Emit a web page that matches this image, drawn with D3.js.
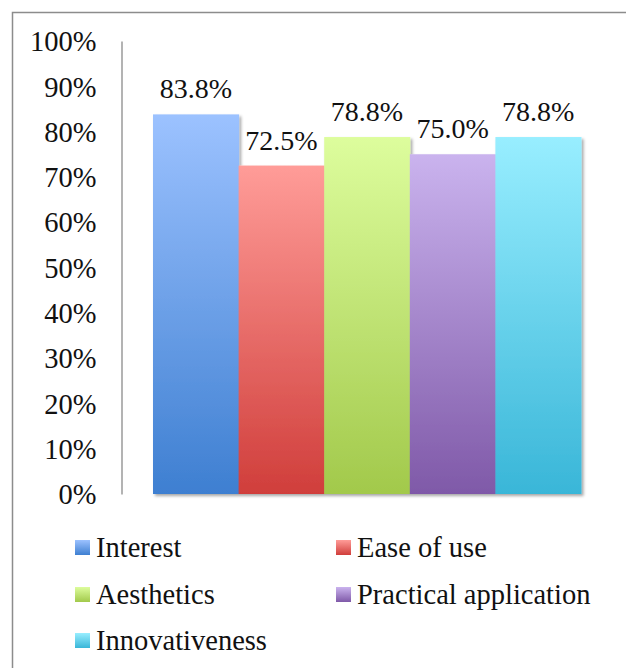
<!DOCTYPE html>
<html>
<head>
<meta charset="utf-8">
<script src="https://cdn.jsdelivr.net/npm/d3@7"></script>
<style>
  html, body { margin: 0; padding: 0; background: #fff; }
  svg { display: block; }
  svg text { font-family: "Liberation Serif", "Times New Roman", serif; fill: #111; }
</style>
</head>
<body>
<svg id="chart" width="626" height="668"></svg>
<script>
// Survey results: share of positive ratings per criterion
const categories = ["Interest", "Ease of use", "Aesthetics", "Practical application", "Innovativeness"];
const values = [83.8, 72.5, 78.8, 75.0, 78.8];
const tickValues = [0, 10, 20, 30, 40, 50, 60, 70, 80, 90, 100];
// light (top) and dark (bottom) gradient stops for each series
const topColors = ["#9cc2ff", "#ff9c98", "#ddfd9d", "#cab3ee", "#98eeff"];
const bottomColors = ["#3e7fd1", "#d03e3b", "#a2c94b", "#7f59a8", "#39b6d8"];

const svg = d3.select("#chart");
const W = 626, H = 668;
const FONT = "'Liberation Serif', 'Times New Roman', serif";

// outer frame (continues past the right and bottom edges)
svg.append("rect")
  .attr("x", 12.5).attr("y", 12.5)
  .attr("width", W).attr("height", H)
  .attr("fill", "none").attr("stroke", "#8c8c8c").attr("stroke-width", 1.5);

const defs = svg.append("defs");
categories.forEach((c, i) => {
  const g = defs.append("linearGradient")
    .attr("id", "grad" + i).attr("x1", 0).attr("y1", 0).attr("x2", 0).attr("y2", 1);
  g.append("stop").attr("offset", "0%").attr("stop-color", topColors[i]);
  g.append("stop").attr("offset", "100%").attr("stop-color", bottomColors[i]);
});
const shadow = defs.append("filter").attr("id", "shadow")
  .attr("x", "-10%").attr("y", "-10%").attr("width", "130%").attr("height", "130%");
shadow.append("feDropShadow")
  .attr("dx", 2).attr("dy", 2).attr("stdDeviation", 1.8)
  .attr("flood-color", "#000").attr("flood-opacity", 0.35);

const y = d3.scaleLinear().domain([0, 100]).range([494, 41]);
const x = d3.scaleBand().domain(categories).range([153, 581]).padding(0);

// y axis: line plus percentage labels, no tick marks
const yAxis = d3.axisLeft(y)
  .tickValues(tickValues)
  .tickSize(0)
  .tickPadding(25)
  .tickFormat(d => d + "%");
const ax = svg.append("g").attr("transform", "translate(121.5,0)").call(yAxis)
  .attr("font-family", FONT).attr("font-size", 28.5);
ax.select(".domain").attr("stroke", "#9a9a9a").attr("stroke-width", 1.5);
ax.selectAll("text")
  .attr("fill", "#111")
  .attr("dy", "0.34em");

// bars
svg.append("g").attr("filter", "url(#shadow)")
  .selectAll("rect")
  .data(values)
  .join("rect")
  .attr("x", (d, i) => x(categories[i]))
  .attr("y", d => y(d))
  .attr("width", x.bandwidth() + 0.5)
  .attr("height", d => y(0) - y(d))
  .attr("fill", (d, i) => `url(#grad${i})`);

// value labels
svg.append("g")
  .attr("font-family", FONT).attr("font-size", 28)
  .selectAll("text")
  .data(values)
  .join("text")
  .attr("x", (d, i) => x(categories[i]) + x.bandwidth() / 2)
  .attr("y", d => y(d) - 16)
  .attr("text-anchor", "middle")
  .text(d => d.toFixed(1) + "%");

// legend: two columns
const legendX = [75, 336];
const legendY = [547.5, 594.5, 640.5];
const legend = svg.append("g")
  .attr("font-family", FONT).attr("font-size", 28.5)
  .selectAll("g")
  .data(categories)
  .join("g")
  .attr("transform", (d, i) => `translate(${legendX[i % 2]},${legendY[Math.floor(i / 2)]})`);
legend.append("rect")
  .attr("x", 0).attr("y", -7.5)
  .attr("width", 15).attr("height", 15)
  .attr("fill", (d, i) => `url(#grad${i})`);
legend.append("text")
  .attr("x", 21).attr("y", 9)
  .text(d => d);
</script>
</body>
</html>
